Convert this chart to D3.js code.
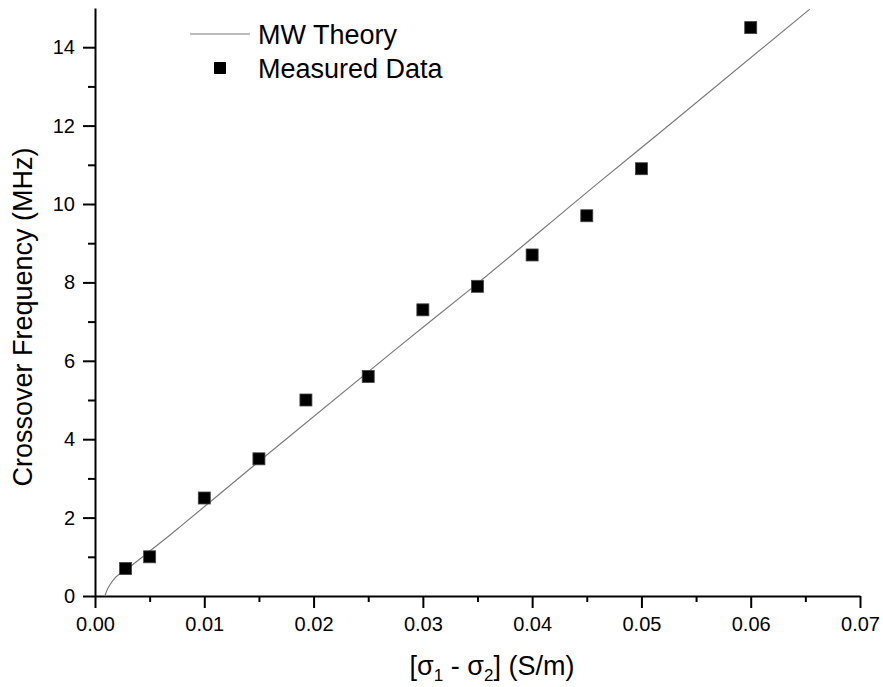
<!DOCTYPE html>
<html>
<head>
<meta charset="utf-8">
<script src="https://cdn.jsdelivr.net/npm/d3@7"></script>
<style>
  body { margin: 0; background: #fff; }
  text { font-family: "Liberation Sans", Arial, sans-serif; fill: #000; }
</style>
</head>
<body>
<div id="chart"></div>
<script>
var svgWidth = 883;
var svgHeight = 687;

// plot area edges (pixels)
var plotLeft = 95, plotRight = 860, plotTop = 8, plotBottom = 596;

// Measured data
var measuredX = [0.0028, 0.005, 0.01, 0.015, 0.0193, 0.025, 0.030, 0.035, 0.040, 0.045, 0.050, 0.060];
var measuredY = [0.7, 1.0, 2.5, 3.5, 5.0, 5.6, 7.3, 7.9, 8.7, 9.7, 10.9, 14.5];

// MW theory curve
var theoryX = [0.0009, 0.0011, 0.0014, 0.0019, 0.0028, 0.0049, 0.0067, 0.0078, 0.0146, 0.0279, 0.0345, 0.0462, 0.0519, 0.0654];
var theoryY = [0.0, 0.15, 0.3, 0.48, 0.66, 1.12, 1.52, 1.77, 3.34, 6.38, 7.86, 10.57, 11.87, 14.97];

var xTicks = [0, 0.01, 0.02, 0.03, 0.04, 0.05, 0.06, 0.07];
var yTicks = [0, 2, 4, 6, 8, 10, 12, 14];

var svg = d3.select("#chart")
  .append("svg")
  .attr("width", svgWidth)
  .attr("height", svgHeight);

var xScale = d3.scaleLinear().domain([0, 0.07]).range([plotLeft, plotRight]);
var yScale = d3.scaleLinear().domain([0, 15]).range([plotBottom, plotTop]);

// minor ticks first
svg.append("g")
  .attr("transform", `translate(0, ${plotBottom})`)
  .call(d3.axisBottom(xScale).tickValues(d3.range(0.005, 0.07, 0.01)).tickSize(6).tickFormat(""))
  .call(g => g.select(".domain").remove())
  .call(g => g.selectAll("line").attr("stroke-width", 2));

svg.append("g")
  .attr("transform", `translate(${plotLeft}, 0)`)
  .call(d3.axisLeft(yScale).tickValues(d3.range(1, 15, 2)).tickSize(7).tickFormat(""))
  .call(g => g.select(".domain").remove())
  .call(g => g.selectAll("line").attr("stroke-width", 2));

// major axes
var xAxis = svg.append("g")
  .attr("transform", `translate(0, ${plotBottom})`)
  .call(d3.axisBottom(xScale).tickValues(xTicks).tickSize(12).tickSizeOuter(0).tickPadding(9)
    .tickFormat(d3.format(".2f")));

var yAxis = svg.append("g")
  .attr("transform", `translate(${plotLeft}, 0)`)
  .call(d3.axisLeft(yScale).tickValues(yTicks).tickSize(12).tickSizeOuter(0).tickPadding(8)
    .tickFormat(d3.format("d")));

[xAxis, yAxis].forEach(function (ax) {
  ax.select(".domain").attr("stroke-width", 2);
  ax.selectAll("line").attr("stroke-width", 2);
  ax.selectAll("text").style("font-size", "20px").attr("fill", "#000");
});

// theory line
var theory = theoryX.map((x, i) => ({ x: x, y: theoryY[i] }));
var line = d3.line()
  .x(d => xScale(d.x))
  .y(d => yScale(d.y))
  .curve(d3.curveMonotoneX);

svg.append("path")
  .datum(theory)
  .attr("d", line)
  .attr("fill", "none")
  .attr("stroke", "#7a7a7a")
  .attr("stroke-width", 1.2);

// measured squares
var sq = 12;
svg.append("g")
  .selectAll("rect")
  .data(measuredX.map((x, i) => ({ x: x, y: measuredY[i] })))
  .enter()
  .append("rect")
  .attr("x", d => xScale(d.x) - sq / 2)
  .attr("y", d => yScale(d.y) - sq / 2)
  .attr("width", sq)
  .attr("height", sq)
  .attr("fill", "#000")
  .attr("stroke", "#444")
  .attr("stroke-width", 0.8);

// legend
var legend = svg.append("g");
legend.append("line")
  .attr("x1", 190).attr("x2", 250)
  .attr("y1", 34).attr("y2", 34)
  .attr("stroke", "#7a7a7a")
  .attr("stroke-width", 1.2);
legend.append("text")
  .attr("x", 258).attr("y", 44)
  .style("font-size", "27px")
  .text("MW Theory");
legend.append("rect")
  .attr("x", 214).attr("y", 62)
  .attr("width", sq).attr("height", sq)
  .attr("fill", "#000");
legend.append("text")
  .attr("x", 258).attr("y", 78)
  .style("font-size", "27px")
  .text("Measured Data");

// axis titles
var xTitle = svg.append("text")
  .attr("x", 492)
  .attr("y", 675)
  .attr("text-anchor", "middle")
  .style("font-size", "27px");
xTitle.append("tspan").text("[\u03c3");
xTitle.append("tspan").attr("dy", 6).style("font-size", "17px").text("1");
xTitle.append("tspan").attr("dy", -6).text(" - \u03c3");
xTitle.append("tspan").attr("dy", 6).style("font-size", "17px").text("2");
xTitle.append("tspan").attr("dy", -6).text("] (S/m)");

svg.append("text")
  .attr("transform", `translate(32, ${(plotTop + plotBottom) / 2 + 15}) rotate(-90)`)
  .attr("text-anchor", "middle")
  .style("font-size", "27px")
  .text("Crossover Frequency (MHz)");
</script>
</body>
</html>
